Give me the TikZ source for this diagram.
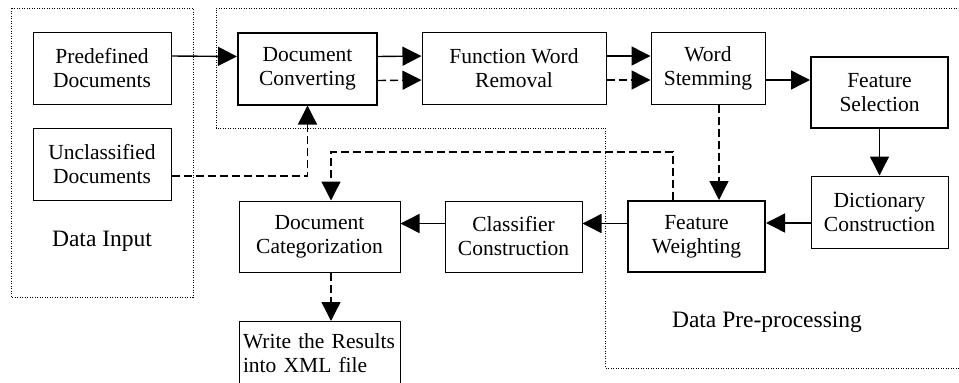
\documentclass[tikz,border=0pt]{standalone}
\usepackage{fontspec}
\setmainfont{Liberation Serif}
\usetikzlibrary{arrows.meta}
\newcommand{\boxfont}{\fontsize{21.5}{24}\selectfont}
\newcommand{\areafont}{\fontsize{23.5}{27}\selectfont}

\begin{document}
\begin{tikzpicture}[x=1pt,y=-1pt,>={Triangle[length=19pt,width=19pt]}]
  \path[use as bounding box] (0,0) rectangle (959,383);
  \tikzset{
    plain/.style={draw,line width=1pt,align=center,font=\boxfont,inner sep=0pt,minimum height=72pt},
    heavy/.style={plain,line width=2pt},
    area/.style={line width=1pt,dash pattern=on 1pt off 1.5pt},
    flow/.style={->,line width=1.4pt},
    back/.style={->,line width=1.4pt,dash pattern=on 8pt off 4pt}
  }
  % group frames
  \draw[area] (11,8) rectangle (193,297);
  \draw[area] (216,128) -- (216,8) -- (965,8) -- (965,368) -- (605,368) -- (605,128) -- cycle;
  \node[font=\areafont] (inlabel) at (102,241) {Data Input};
  \node[font=\areafont] (prelabel) at (767,322) {Data Pre-processing};

  \node[plain,minimum width=138pt] (pre) at (102,68) {Predefined\\Documents};
  \node[plain,minimum width=138pt] (uncl) at (102,164) {Unclassified\\Documents};
  \node[heavy,minimum width=139pt] (conv) at (307.5,68.5) {Document\\Converting};
  \node[plain,minimum width=184pt] (fwr) at (514,68) {Function Word\\Removal};
  \node[plain,minimum width=114pt] (stem) at (708,68) {Word\\Stemming};
  \node[heavy,minimum width=137pt,minimum height=71pt] (fsel) at (879.5,92.5) {Feature\\Selection};
  \node[plain,minimum width=137pt] (dict) at (879.5,212) {Dictionary\\Construction};
  \node[heavy,minimum width=137pt,minimum height=71pt] (fweight) at (696.5,236.5) {Feature\\Weighting};
  \node[plain,minimum width=137pt,minimum height=71pt] (clsf) at (513.5,236.5) {Classifier\\Construction};
  \node[plain,minimum width=161pt,minimum height=71pt] (dcat) at (319.5,236.5) {Document\\Categorization};
  \node[plain,anchor=north,align=left,text width=153pt,inner xsep=4pt,minimum height=64pt] (write) at (319.5,321) {Write the Results\\into XML file};
  \coordinate (bend) at (331,152);

  \draw[flow] ([yshift=12pt]pre.east) -- ([yshift=12pt]conv.west);
  \draw[flow] ([yshift=12pt]conv.east) -- ([yshift=12pt]fwr.west);
  \draw[back] ([yshift=-12pt]conv.east) -- ([yshift=-12pt]fwr.west);
  \draw[flow] ([yshift=12pt]fwr.east) -- ([yshift=12pt]stem.west);
  \draw[back] ([yshift=-12pt]fwr.east) -- ([yshift=-12pt]stem.west);
  \draw[flow] ([yshift=-12pt]stem.east) -- ([yshift=-12pt]stem.east -| fsel.west);
  \draw[flow] (fsel.south) -- (dict.north);
  \draw[flow] ([yshift=-11pt]dict.west) -- ([yshift=-11pt]dict.west -| fweight.east);
  \draw[flow] ([yshift=13pt]fweight.west) -- ([yshift=13pt]clsf.east);
  \draw[flow] ([yshift=13pt]clsf.west) -- ([yshift=13pt]dcat.east);
  \draw[back] ([xshift=11pt]stem.south) -- ([xshift=11pt]stem.south |- fweight.north);
  \draw[back] ([yshift=-12pt]uncl.east) -| (conv.south);
  \draw[back] ([xshift=-23.5pt]fweight.north) |- (bend) -- (bend |- dcat.north);
  \draw[back] (bend |- dcat.south) -- (bend |- write.north);
\end{tikzpicture}
\end{document}
